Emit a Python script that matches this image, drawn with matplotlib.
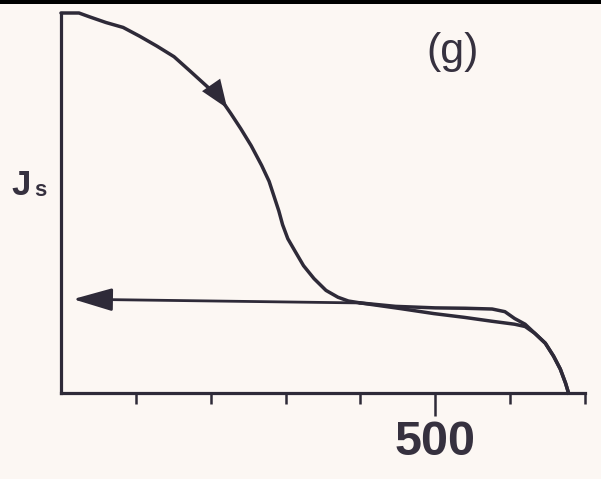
import numpy as np
import matplotlib
matplotlib.use("Agg")
import matplotlib.pyplot as plt
from matplotlib.patches import Rectangle

# Thermomagnetic curve: saturation magnetisation J_s versus temperature (deg C)
heat_T = [0, 24, 38, 60, 83, 105, 128, 151, 172, 191, 213, 227, 240, 254, 268,
          278, 285, 291, 296, 303, 313, 324, 338, 354, 370, 384, 400, 454, 498,
          539, 575, 606, 620, 633, 647, 658, 667, 674, 678]
heat_J = [1.0, 1.0, 0.990, 0.975, 0.962, 0.939, 0.913, 0.885, 0.848, 0.814,
          0.775, 0.735, 0.696, 0.651, 0.599, 0.557, 0.515, 0.479, 0.443, 0.406,
          0.372, 0.335, 0.301, 0.270, 0.252, 0.242, 0.237, 0.222, 0.209, 0.199,
          0.189, 0.181, 0.175, 0.157, 0.131, 0.097, 0.063, 0.026, 0.0]

cool_T = [678, 674, 667, 658, 647, 633, 620, 606, 593, 576, 540, 500, 447, 400, 16]
cool_J = [0.0, 0.026, 0.063, 0.097, 0.131, 0.157, 0.181, 0.196, 0.214, 0.221,
          0.223, 0.224, 0.228, 0.237, 0.247]

tick_T = [100, 200, 300, 400, 500, 600, 700]
labelled_T = [500]
panel_label = "(g)"

ink = "#2e2a38"
text_ink = "#36313f"
paper = "#fcf7f3"

fig = plt.figure(figsize=(6.01, 4.79), dpi=100, facecolor=paper)
W, H = 601, 479
left, right, bottom, top = 61, 585, 393, 13
ax = fig.add_axes([left / W, 1 - bottom / H, (right - left) / W, (bottom - top) / H])
ax.set_facecolor(paper)
ax.set_xlim(0, 700)
ax.set_ylim(0, 1)

for s in ("top", "right"):
    ax.spines[s].set_visible(False)
for s in ("left", "bottom"):
    ax.spines[s].set_color(ink)
    ax.spines[s].set_linewidth(2.3)

# heating branch
ax.plot(heat_T, heat_J, color=ink, lw=2.5, clip_on=False, solid_capstyle="round",
        solid_joinstyle="round")
# cooling branch, last segment drawn as an arrow
ax.plot(cool_T[:-1], cool_J[:-1], color=ink, lw=2.5, clip_on=False,
        solid_joinstyle="round")
ax.annotate("", xy=(cool_T[-1], cool_J[-1]), xytext=(cool_T[-2], cool_J[-2]),
            arrowprops=dict(arrowstyle="-|>,head_length=1.1,head_width=0.32",
                            mutation_scale=22, color=ink, lw=2.0,
                            shrinkA=0, shrinkB=0))

# direction arrow on the heating branch
tip_T = 222
tip_J = np.interp(tip_T, heat_T, heat_J)
tail_T = tip_T - 8
tail_J = np.interp(tail_T, heat_T, heat_J)
ax.annotate("", xy=(tip_T, tip_J), xytext=(tail_T, tail_J),
            arrowprops=dict(arrowstyle="-|>,head_length=0.85,head_width=0.33",
                            mutation_scale=24, color=ink, lw=0,
                            shrinkA=0, shrinkB=0))

# ticks
ax.set_xticks(labelled_T)
ax.set_xticklabels([str(t) for t in labelled_T], fontsize=35,
                   fontweight="bold", family="Liberation Sans", color=text_ink)
ax.set_xticks([t for t in tick_T if t not in labelled_T], minor=True)
ax.tick_params(axis="x", which="major", direction="out", length=16.5, width=1.8,
               color=ink, pad=3)
ax.tick_params(axis="x", which="minor", direction="out", length=8, width=1.8,
               color=ink)
ax.set_yticks([])

# axis label J_s
fig.text(11 / W, 1 - 195 / H, "J", fontsize=25, fontweight="bold",
         family="Liberation Sans", color=text_ink, ha="left", va="baseline")
fig.text(34 / W, 1 - 196 / H, "s", fontsize=16, fontweight="bold",
         family="Liberation Sans", color=text_ink, ha="left", va="baseline")

# panel label
fig.text(453 / W, 1 - 52 / H, panel_label, fontsize=31, family="Liberation Sans",
         color=text_ink, ha="center", va="center")

# black rule along the top edge
fig.patches.append(Rectangle((0, 1 - 4 / H), 1, 4 / H, transform=fig.transFigure,
                             facecolor="black", edgecolor="none", figure=fig))

fig.savefig("out.png", dpi=100, facecolor=paper)
